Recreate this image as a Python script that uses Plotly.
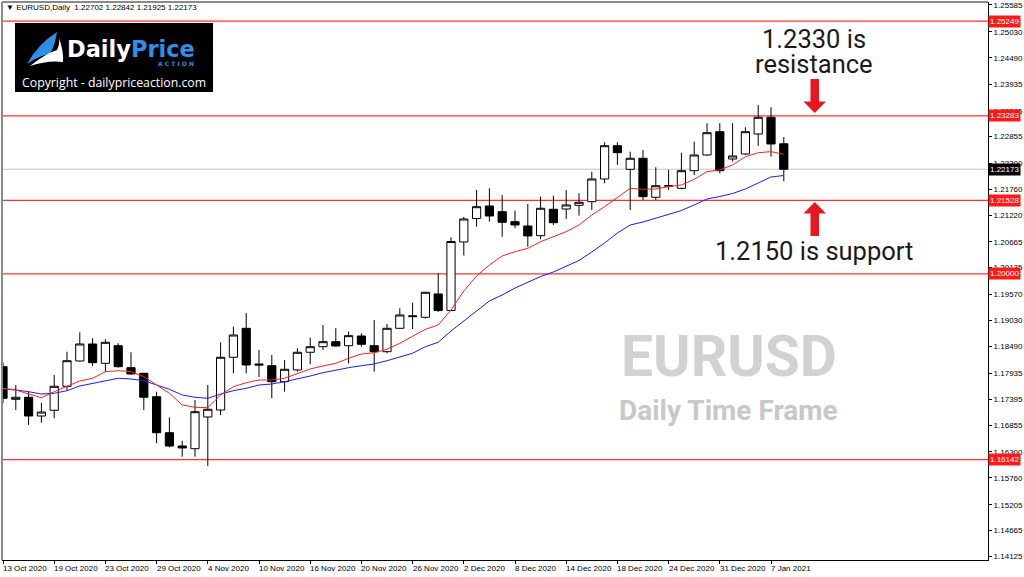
import plotly.graph_objects as go

# ---------------- data ----------------
dates = ["2020-10-13", "2020-10-14", "2020-10-15", "2020-10-16", "2020-10-19", "2020-10-20", "2020-10-21",
         "2020-10-22", "2020-10-23", "2020-10-26", "2020-10-27", "2020-10-28", "2020-10-29", "2020-10-30",
         "2020-11-02", "2020-11-03", "2020-11-04", "2020-11-05", "2020-11-06", "2020-11-09", "2020-11-10",
         "2020-11-11", "2020-11-12", "2020-11-13", "2020-11-16", "2020-11-17", "2020-11-18", "2020-11-19",
         "2020-11-20", "2020-11-23", "2020-11-24", "2020-11-25", "2020-11-26", "2020-11-27", "2020-11-30",
         "2020-12-01", "2020-12-02", "2020-12-03", "2020-12-04", "2020-12-07", "2020-12-08", "2020-12-09",
         "2020-12-10", "2020-12-11", "2020-12-14", "2020-12-15", "2020-12-16", "2020-12-17", "2020-12-18",
         "2020-12-21", "2020-12-22", "2020-12-23", "2020-12-24", "2020-12-28", "2020-12-29", "2020-12-30",
         "2020-12-31", "2021-01-04", "2021-01-05", "2021-01-06", "2021-01-07", "2021-01-08"]

open_ = [1.18072, 1.17394, 1.17436, 1.17047, 1.17166, 1.17664, 1.18190, 1.18543, 1.18142, 1.18508,
         1.18051, 1.17934, 1.17448, 1.16700, 1.16424, 1.16368, 1.17027, 1.17172, 1.18267, 1.18869,
         1.18128, 1.18092, 1.17760, 1.18004, 1.18371, 1.18487, 1.18591, 1.18508, 1.18709, 1.18508,
         1.18383, 1.18869, 1.19110, 1.19098, 1.19582, 1.19239, 1.20662, 1.21150, 1.21410, 1.21291,
         1.21084, 1.20994, 1.20793, 1.21341, 1.21347, 1.21424, 1.21499, 1.21971, 1.22662, 1.22172,
         1.22401, 1.21591, 1.21831, 1.21777, 1.22143, 1.22469, 1.22953, 1.22386, 1.22490, 1.22905,
         1.23252, 1.22702]
high = [1.18155, 1.17691, 1.17552, 1.17324, 1.17899, 1.18383, 1.18786, 1.18662, 1.18641, 1.18558,
        1.18371, 1.17947, 1.17552, 1.17020, 1.16534, 1.17380, 1.17691, 1.18578, 1.18902, 1.19187,
        1.18418, 1.18315, 1.18211, 1.18454, 1.18674, 1.18938, 1.18869, 1.18799, 1.18765, 1.19042,
        1.18959, 1.19285, 1.19401, 1.19623, 1.20012, 1.20760, 1.21181, 1.21742, 1.21777, 1.21638,
        1.21312, 1.21451, 1.21603, 1.21624, 1.21742, 1.21674, 1.22122, 1.22733, 1.22733, 1.22538,
        1.22573, 1.22214, 1.22158, 1.22517, 1.22746, 1.23128, 1.23128, 1.23128, 1.23045, 1.23508,
        1.23460, 1.22842]
low = [1.17318, 1.17172, 1.16861, 1.16908, 1.17000, 1.17588, 1.18175, 1.18086, 1.17968, 1.18051,
       1.17899, 1.17172, 1.16480, 1.16397, 1.16202, 1.16202, 1.16009, 1.17068, 1.17934, 1.17934,
       1.17858, 1.17415, 1.17552, 1.17968, 1.18121, 1.18418, 1.18487, 1.18142, 1.18487, 1.17968,
       1.18350, 1.18855, 1.18855, 1.19069, 1.19208, 1.19229, 1.20382, 1.20980, 1.21084, 1.20772,
       1.20947, 1.20564, 1.20718, 1.21015, 1.21140, 1.21208, 1.21327, 1.21881, 1.22262, 1.21327,
       1.21534, 1.21534, 1.21742, 1.21757, 1.22054, 1.22455, 1.22089, 1.22330, 1.22469, 1.22656,
       1.22434, 1.21925]
close = [1.17415, 1.17436, 1.17047, 1.17130, 1.17664, 1.18196, 1.18543, 1.18155, 1.18578, 1.18072,
         1.17920, 1.17436, 1.16700, 1.16424, 1.16383, 1.17137, 1.17187, 1.18267, 1.18730, 1.18107,
         1.18107, 1.17760, 1.18018, 1.18371, 1.18487, 1.18591, 1.18502, 1.18716, 1.18537, 1.18383,
         1.18869, 1.19146, 1.19125, 1.19617, 1.19239, 1.20672, 1.21140, 1.21395, 1.21202, 1.21071,
         1.21015, 1.20787, 1.21362, 1.21063, 1.21431, 1.21487, 1.21971, 1.22662, 1.22517, 1.22401,
         1.21603, 1.21831, 1.21825, 1.22143, 1.22469, 1.22932, 1.22143, 1.22448, 1.22953, 1.23252,
         1.22698, 1.22173]

ma_fast = [1.17623, 1.17588, 1.17504, 1.17428, 1.17552, 1.17656, 1.17775, 1.17831, 1.17968, 1.17988,
           1.17968, 1.17864, 1.17691, 1.17519, 1.17276, 1.17228, 1.17220, 1.17484, 1.17656, 1.17739,
           1.17795, 1.17795, 1.17831, 1.17920, 1.18025, 1.18086, 1.18142, 1.18246, 1.18335, 1.18362,
           1.18433, 1.18558, 1.18695, 1.18848, 1.18938, 1.19249, 1.19644, 1.19956, 1.20184, 1.20371,
           1.20460, 1.20531, 1.20668, 1.20772, 1.20876, 1.21015, 1.21223, 1.21395, 1.21586, 1.21777,
           1.21757, 1.21763, 1.21811, 1.21846, 1.21964, 1.22122, 1.22158, 1.22262, 1.22434, 1.22517,
           1.22538, 1.22484]
ma_slow = [1.17608, 1.17588, 1.17552, 1.17504, 1.17519, 1.17573, 1.17671, 1.17727, 1.17781, 1.17831,
           1.17816, 1.17781, 1.17691, 1.17602, 1.17484, 1.17436, 1.17415, 1.17504, 1.17573, 1.17623,
           1.17691, 1.17712, 1.17760, 1.17816, 1.17878, 1.17947, 1.18004, 1.18051, 1.18092, 1.18128,
           1.18196, 1.18267, 1.18350, 1.18487, 1.18578, 1.18813, 1.19031, 1.19229, 1.19436, 1.19561,
           1.19706, 1.19831, 1.19945, 1.20039, 1.20163, 1.20278, 1.20454, 1.20641, 1.20849, 1.21015,
           1.21077, 1.21161, 1.21244, 1.21316, 1.21431, 1.21555, 1.21607, 1.21669, 1.21763, 1.21888,
           1.22012, 1.22043]

tick_labels = ["13 Oct 2020", "19 Oct 2020", "23 Oct 2020", "29 Oct 2020", "4 Nov 2020", "10 Nov 2020",
               "16 Nov 2020", "20 Nov 2020", "26 Nov 2020", "2 Dec 2020", "8 Dec 2020", "14 Dec 2020",
               "18 Dec 2020", "24 Dec 2020", "31 Dec 2020", "7 Jan 2021"]
tick_dates = ["2020-10-13", "2020-10-19", "2020-10-23", "2020-10-29", "2020-11-04", "2020-11-10",
              "2020-11-16", "2020-11-20", "2020-11-26", "2020-12-02", "2020-12-08", "2020-12-14",
              "2020-12-18", "2020-12-24", "2020-12-31", "2021-01-07"]

price_ticks = [1.25585, 1.25030, 1.24490, 1.23935, 1.23385, 1.22855, 1.22300, 1.21760, 1.21220,
               1.20665, 1.20135, 1.19570, 1.19030, 1.18490, 1.17935, 1.17395, 1.16855, 1.16300,
               1.15760, 1.15205, 1.14665, 1.14125]
level_prices = [1.25249, 1.23283, 1.21528, 1.20000, 1.16142]
last_price = 1.22173
header_text = "EURUSD,Daily  1.22702 1.22842 1.21925 1.22173"

# ---------------- layout geometry ----------------
W, H = 1024, 577
ML, MR, MT, MB = 2, 36, 2, 17
PW, PH = W - ML - MR, H - MT - MB
BAR_PX = 12.8
FIRST_PX = 3.0


def px(x):
    return (x - ML) / PW


def py(y):
    return (H - MB - y) / PH


xi = list(range(len(dates)))
idx_of = {d: i for i, d in enumerate(dates)}

fig = go.Figure()

fig.add_trace(go.Candlestick(
    x=xi, open=open_, high=high, low=low, close=close,
    increasing=dict(line=dict(color="black", width=1), fillcolor="white"),
    decreasing=dict(line=dict(color="black", width=1), fillcolor="black"),
    whiskerwidth=0, showlegend=False, hoverinfo="skip"))

fig.add_trace(go.Scatter(x=xi, y=ma_slow, mode="lines",
                         line=dict(color="#1a1aff", width=1), showlegend=False, hoverinfo="skip"))
fig.add_trace(go.Scatter(x=xi, y=ma_fast, mode="lines",
                         line=dict(color="#ff2020", width=1), showlegend=False, hoverinfo="skip"))

shapes = []
shapes.append(dict(type="line", xref="paper", yref="y", x0=0, x1=1, y0=last_price, y1=last_price,
                   line=dict(color="#c4c4c4", width=1), layer="below"))
for lv in level_prices:
    shapes.append(dict(type="line", xref="paper", yref="y", x0=0, x1=1, y0=lv, y1=lv,
                       line=dict(color="#ff3030", width=1.3), layer="below"))
shapes.append(dict(type="line", xref="paper", yref="paper", x0=0, x1=0, y0=0, y1=1,
                   line=dict(color="#8a8a8a", width=2)))
shapes.append(dict(type="line", xref="paper", yref="paper", x0=0, x1=1, y0=1, y1=1,
                   line=dict(color="#8a8a8a", width=2)))


def path_px(points):
    return "M " + " L ".join(f"{px(a):.5f},{py(b):.5f}" for a, b in points) + " Z"


down_arrow = [(810.5, 79), (819, 79), (819, 101.5), (826, 101.5), (814.75, 113), (803.5, 101.5), (810.5, 101.5)]
up_arrow = [(810.5, 236), (819, 236), (819, 213.5), (826, 213.5), (814.75, 202), (803.5, 213.5), (810.5, 213.5)]
for arr in (down_arrow, up_arrow):
    shapes.append(dict(type="path", xref="paper", yref="paper", path=path_px(arr),
                       fillcolor="#e8161f", line=dict(width=0)))

shapes.append(dict(type="rect", xref="paper", yref="paper", x0=px(15), x1=px(213), y0=py(92), y1=py(23),
                   fillcolor="#000000", line=dict(width=0)))


def cpath(cmds):
    out = []
    for c in cmds:
        if isinstance(c, str):
            out.append(c)
        else:
            out.append(f"{px(c[0]):.5f},{py(c[1]):.5f}")
    return " ".join(out)


shapes.append(dict(type="path", xref="paper", yref="paper",
                   path=cpath(["M", (27, 64), "Q", (38, 44), (57, 32), "Q", (55, 45), (50, 54),
                               "Q", (38, 56), (27, 64), "Z"]),
                   fillcolor="#2d8fe6", line=dict(width=0)))
shapes.append(dict(type="path", xref="paper", yref="paper",
                   path=cpath(["M", (30, 66), "Q", (45, 54), (57, 50), "Q", (60, 44), (59, 38),
                               "Q", (64, 52), (63, 62), "Q", (48, 60), (30, 66), "Z"]),
                   fillcolor="#ffffff", line=dict(width=0)))

annotations = []
AXF = "Tahoma, Liberation Sans, Arial"
annotations.append(dict(xref="paper", yref="paper", x=px(4), y=py(8), xanchor="left", yanchor="middle",
                        text="▼ " + header_text, showarrow=False,
                        font=dict(family=AXF, size=8, color="black")))
for d, lab in zip(tick_dates, tick_labels):
    annotations.append(dict(xref="x", yref="paper", x=idx_of[d], y=0, xanchor="left", yanchor="top",
                            yshift=-2, xshift=-2, text=lab, showarrow=False,
                            font=dict(family=AXF, size=8, color="black")))
for lv in level_prices:
    annotations.append(dict(xref="paper", yref="y", x=1, y=lv, xanchor="left", yanchor="middle",
                            xshift=0, text=f"{lv:.5f}", showarrow=False, bgcolor="#ff1a1a",
                            borderpad=1, font=dict(family=AXF, size=8, color="white")))
annotations.append(dict(xref="paper", yref="y", x=1, y=last_price, xanchor="left", yanchor="middle",
                        text=f"{last_price:.5f}", showarrow=False, bgcolor="#000000", borderpad=1,
                        font=dict(family=AXF, size=8, color="white")))
TF = "Roboto, Arial"
annotations.append(dict(xref="paper", yref="paper", x=px(814), y=py(39), xanchor="center", yanchor="middle",
                        text="1.2330 is", showarrow=False, font=dict(family=TF, size=25.5, color="#1a1a1a")))
annotations.append(dict(xref="paper", yref="paper", x=px(814), y=py(64), xanchor="center", yanchor="middle",
                        text="resistance", showarrow=False, font=dict(family=TF, size=25.5, color="#1a1a1a")))
annotations.append(dict(xref="paper", yref="paper", x=px(814), y=py(251), xanchor="center", yanchor="middle",
                        text="1.2150 is support", showarrow=False, font=dict(family=TF, size=25.5, color="#1a1a1a")))
annotations.append(dict(xref="paper", yref="paper", x=px(729), y=py(356), xanchor="center", yanchor="middle",
                        text="<b>EURUSD</b>", showarrow=False, font=dict(family=TF, size=57, color="#d2d2d2")))
annotations.append(dict(xref="paper", yref="paper", x=px(728), y=py(410), xanchor="center", yanchor="middle",
                        text="<b>Daily Time Frame</b>", showarrow=False, font=dict(family=TF, size=28, color="#c8c8c8")))
annotations.append(dict(xref="paper", yref="paper", x=px(65), y=py(49), xanchor="left", yanchor="middle",
                        text="<b>Daily</b><b><span style='color:#2d8fe6'>Price</span></b>", showarrow=False,
                        font=dict(family="DejaVu Sans", size=22.5, color="white")))
annotations.append(dict(xref="paper", yref="paper", x=px(196), y=py(63.5), xanchor="right", yanchor="middle",
                        text="<b>A C T I O N</b>", showarrow=False,
                        font=dict(family="DejaVu Sans", size=6, color="#2d8fe6")))
annotations.append(dict(xref="paper", yref="paper", x=px(114), y=py(83), xanchor="center", yanchor="middle",
                        text="Copyright - dailypriceaction.com", showarrow=False,
                        font=dict(family="Open Sans, Arial", size=12.3, color="white")))

fig.update_layout(
    width=W, height=H,
    margin=dict(l=ML, r=MR, t=MT, b=MB, pad=0),
    paper_bgcolor="white", plot_bgcolor="white",
    boxgap=0.2, boxgroupgap=0.2,
    shapes=shapes, annotations=annotations,
    hovermode=False,
    xaxis=dict(range=[(ML - FIRST_PX) / BAR_PX, (W - MR - FIRST_PX) / BAR_PX],
               rangeslider=dict(visible=False), showgrid=False, zeroline=False,
               tickvals=[idx_of[d] for d in tick_dates], showticklabels=False,
               ticks="outside", ticklen=3, tickcolor="black",
               showline=True, linecolor="black", linewidth=1),
    yaxis=dict(range=[1.14056, 1.25647], side="right", showgrid=False, zeroline=False,
               tickvals=price_ticks, ticktext=[f"{v:.5f}" for v in price_ticks],
               ticks="outside", ticklen=3, tickcolor="black",
               tickfont=dict(family=AXF, size=8, color="black"),
               showline=True, linecolor="black", linewidth=1),
)

fig.write_html("out.html", config={"displayModeBar": False},
               post_script="document.body.style.margin='0';document.body.style.overflow='hidden';")
